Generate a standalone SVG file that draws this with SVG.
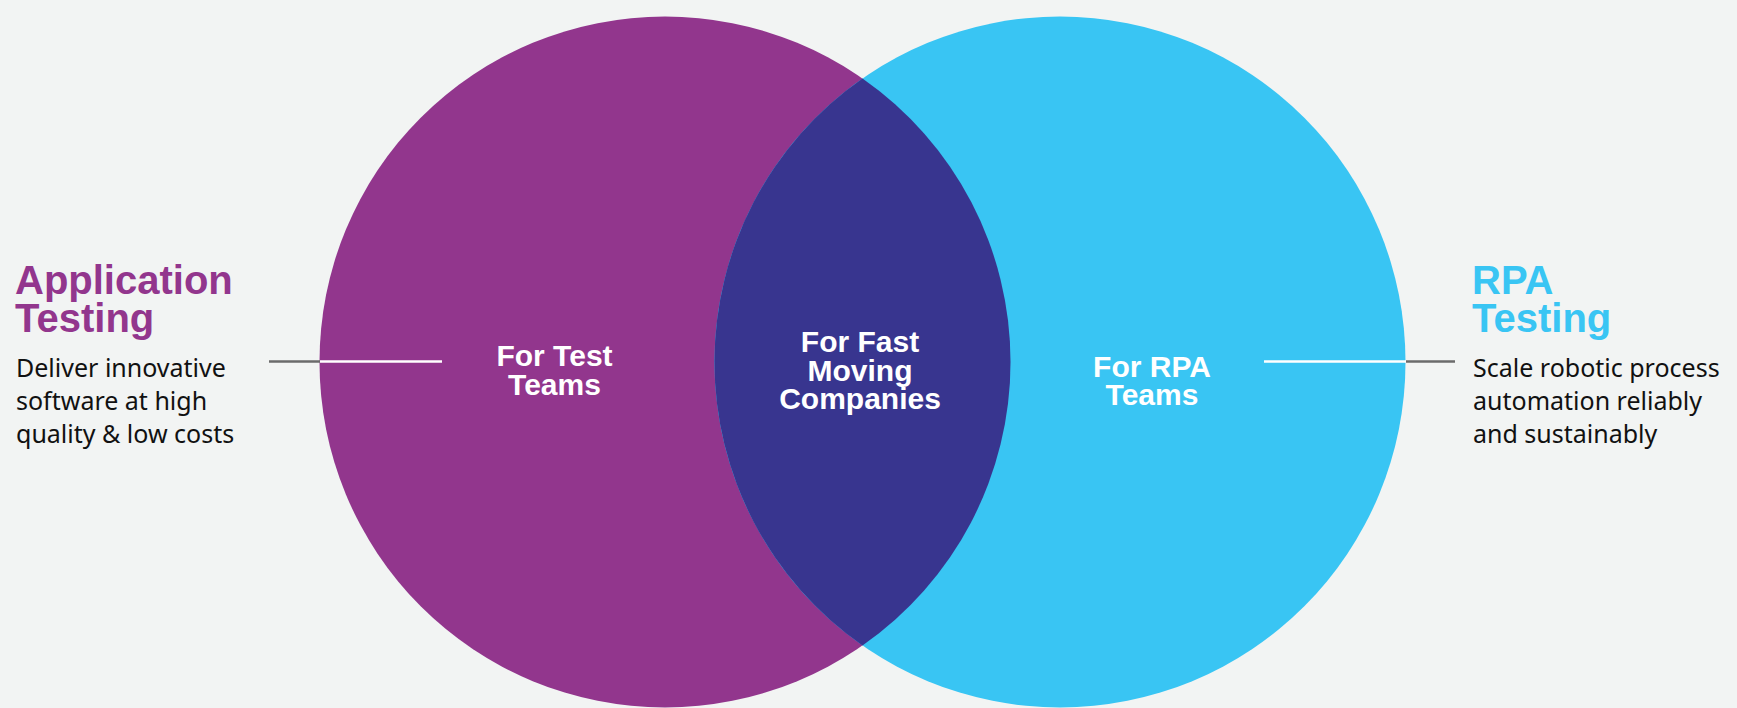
<svg xmlns="http://www.w3.org/2000/svg" width="1737" height="708" viewBox="0 0 1737 708">
  <style>
    .head { font-family: "Liberation Sans", Arial, sans-serif; font-weight: bold; font-size: 40px; }
    .body { font-family: "Noto Sans", "Liberation Sans", sans-serif; font-size: 25px; fill: #111111; }
    .label { font-family: "Liberation Sans", Arial, sans-serif; font-weight: bold; font-size: 30px; fill: #ffffff; text-anchor: middle; }
    .lead { stroke: #6b6b6b; stroke-width: 2.5; fill: none; }
    .inner { stroke: #ffffff; stroke-width: 2.5; fill: none; }
  </style>
  <rect x="0" y="0" width="1737" height="708" fill="#f2f4f3"/>

  <g id="circle-left">
    <circle cx="665" cy="362" r="345.5" fill="#92368d"/>
  </g>
  <g id="circle-right">
    <circle cx="1060" cy="362" r="345.5" fill="#39c5f3"/>
  </g>
  <g id="intersection">
    <path d="M862.5,78.5 A345.5,345.5 0 0 0 862.5,645.5 A345.5,345.5 0 0 0 862.5,78.5 Z" fill="#38358f"/>
  </g>

  <g id="connectors">
    <line class="lead" x1="269" y1="361.5" x2="320" y2="361.5"/>
    <line class="inner" x1="320" y1="361.5" x2="442" y2="361.5"/>
    <line class="inner" x1="1264" y1="361.5" x2="1406" y2="361.5"/>
    <line class="lead" x1="1406" y1="361.5" x2="1455" y2="361.5"/>
  </g>

  <g id="label-left">
    <text class="label" x="554.5" y="366">For Test</text>
    <text class="label" x="554.5" y="395">Teams</text>
  </g>
  <g id="label-center">
    <text class="label" x="860" y="352">For Fast</text>
    <text class="label" x="860" y="381">Moving</text>
    <text class="label" x="860" y="409">Companies</text>
  </g>
  <g id="label-right">
    <text class="label" x="1152" y="377">For RPA</text>
    <text class="label" x="1152" y="405">Teams</text>
  </g>

  <g id="app-testing">
    <text class="head" fill="#92368d" x="15" y="294">Application</text>
    <text class="head" fill="#92368d" x="15" y="332">Testing</text>
    <text class="body" x="16" y="377">Deliver innovative</text>
    <text class="body" x="16" y="410">software at high</text>
    <text class="body" x="16" y="443">quality &amp; low costs</text>
  </g>
  <g id="rpa-testing">
    <text class="head" fill="#39c5f3" x="1472" y="294">RPA</text>
    <text class="head" fill="#39c5f3" x="1472" y="332">Testing</text>
    <text class="body" x="1473" y="377">Scale robotic process</text>
    <text class="body" x="1473" y="410">automation reliably</text>
    <text class="body" x="1473" y="443">and sustainably</text>
  </g>
</svg>
